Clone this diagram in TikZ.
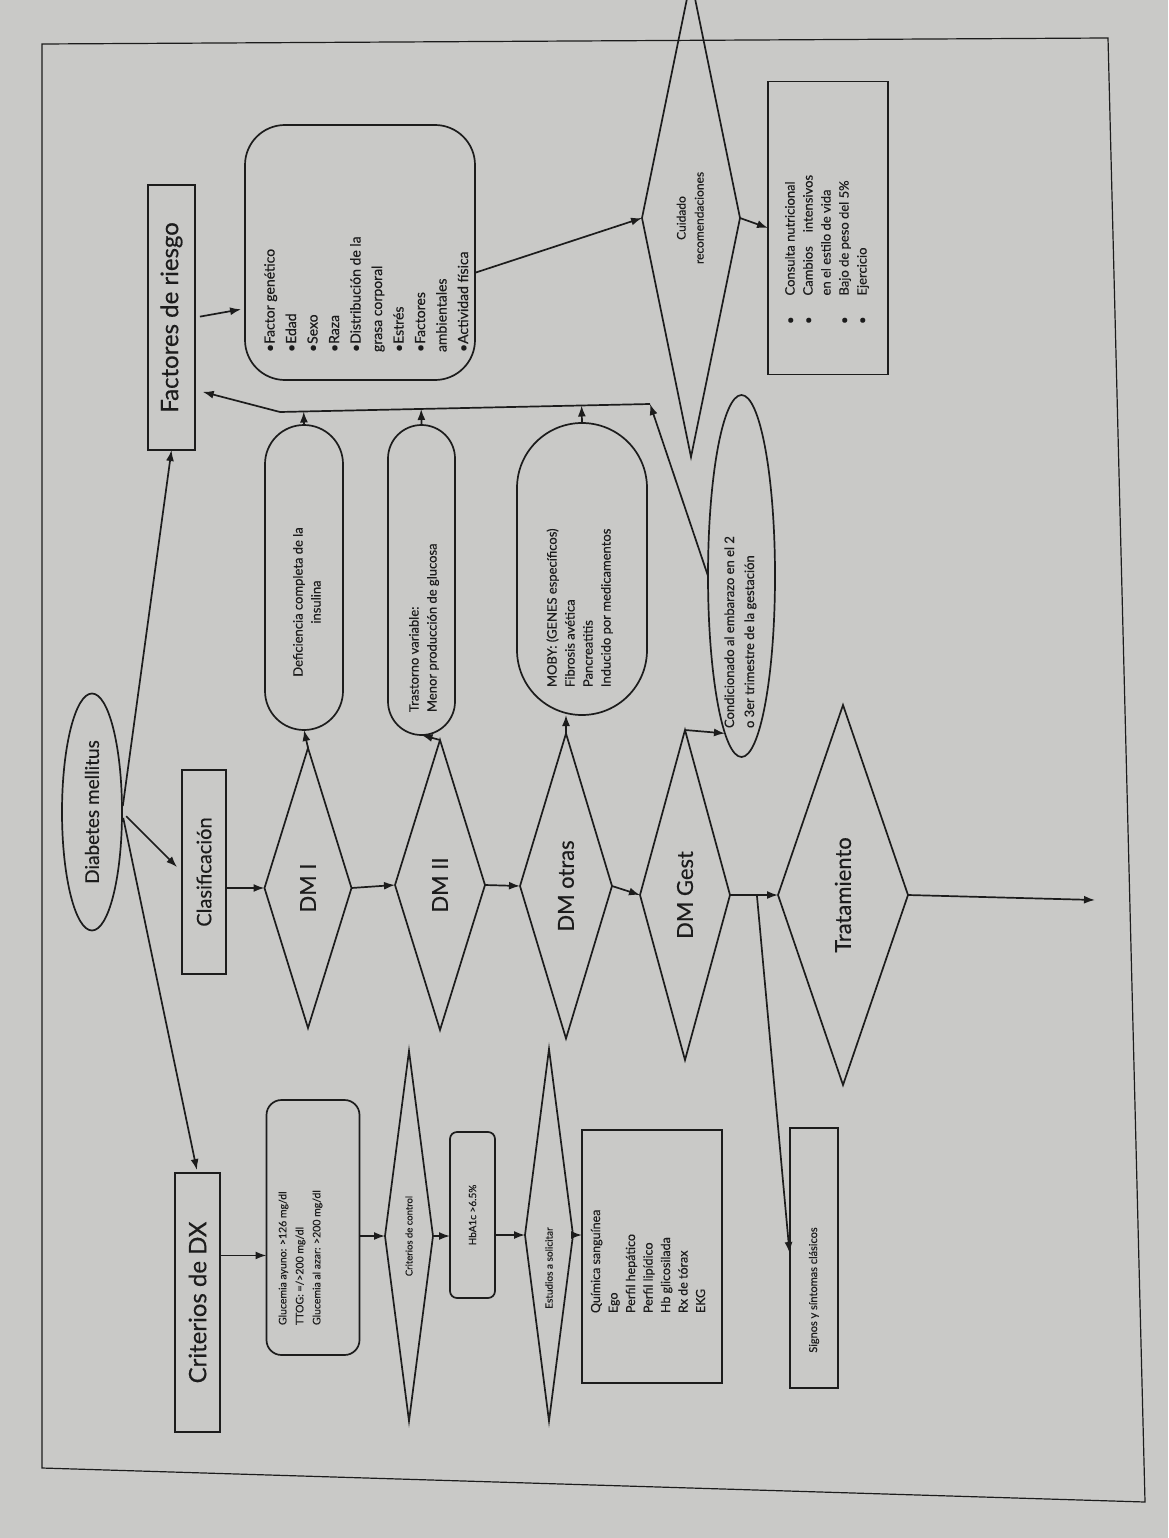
\documentclass[tikz,border=0pt]{standalone}
\usepackage{fontspec}
\setmainfont{Lato}[FakeBold=0.4]
\usepackage{graphicx}
\usetikzlibrary{arrows.meta,shapes.geometric,calc}

\definecolor{paper}{RGB}{201,201,199}
\definecolor{ink}{RGB}{28,28,28}

% vertical text, read from bottom to top
\newcommand{\vlist}[1]{\rotatebox{90}{\begin{tabular}{@{}l@{}}#1\end{tabular}}}
\newcommand{\vcent}[1]{\rotatebox{90}{\begin{tabular}{@{}c@{}}#1\end{tabular}}}

\begin{document}
\begin{tikzpicture}[x=1pt,y=-1pt,
    every node/.style={inner sep=0pt,outer sep=0pt,text=ink},
    drw/.style={draw=ink,line width=1.7pt},
    arr/.style={drw,-{Latex[length=11pt,width=8pt]}},
    box/.style={drw,rectangle},
    rbox/.style={drw,rectangle,rounded corners=#1},
    dia/.style={drw,diamond,aspect=0.25},
    ell/.style={drw,ellipse},
    big/.style={font=\fontsize{24}{28}\selectfont},
    dmfont/.style={font=\fontsize{22}{26}\selectfont},
    small/.style={font=\fontsize{13}{18}\selectfont},
    tiny/.style={font=\fontsize{10.5}{17}\selectfont}]
    % page
    \useasboundingbox (0,0) rectangle (1168,1538);
    \fill[paper] (0,0) rectangle (1168,1538);
    \clip (0,0) rectangle (1168,1538);
    \draw[ink,line width=1.2pt] (42,44) -- (1108,38) -- (1145,1502) -- (42,1468) -- cycle;
    % start
    \node[ell,minimum width=60pt,minimum height=237pt,font=\fontsize{19}{23}\selectfont] (dm) at (92,812) {\rotatebox{90}{Diabetes mellitus}};
    % first column
    \node[box,minimum width=47pt,minimum height=265pt,big] (fac) at (171.5,317.5) {\rotatebox{90}{Factores de riesgo}};
    \node[box,minimum width=44pt,minimum height=204pt,font=\fontsize{20}{24}\selectfont] (clas) at (204,872) {\rotatebox{90}{Clasificación}};
    \node[box,minimum width=45pt,minimum height=259pt,big] (crit) at (197.5,1302.5) {\rotatebox{90}{Criterios de DX}};
    % risk factors and care
    \node[rbox=40pt,minimum width=230pt,minimum height=255pt] (flist) at (360,252.5) {};
    \node[font=\fontsize{14}{21.5}\selectfont,anchor=south] (flisttxt) at (367,352) {\vlist{%
        •Factor genético\\ •Edad\\ •Sexo\\ •Raza\\ •Distribución de la\\ grasa corporal\\
        •Estrés\\ •Factores\\ ambientales\\ •Actividad física}};
    \node[dia,minimum width=98pt,minimum height=478pt,font=\fontsize{12}{18}\selectfont] (care) at (691,218) {\vcent{Cuidado\\ recomendaciones}};
    \node[box,minimum width=120pt,minimum height=293pt] (recs) at (828,228) {};
    \node[small,anchor=south] (recstxt) at (827,324) {\rotatebox{90}{\begin{tabular}{@{}l@{\hspace{21pt}}l@{}}
        •& Consulta nutricional\\ •& Cambios\hspace{14pt}intensivos\\ & en el estilo de vida\\
        •& Bajo de peso del 5\%\\ •& Ejercicio\end{tabular}}};
    % types
    \node[dia,minimum width=87pt,minimum height=280pt,dmfont] (dm1) at (308,888) {\rotatebox{90}{DM I}};
    \node[dia,minimum width=90pt,minimum height=290pt,dmfont] (dm2) at (440,885) {\rotatebox{90}{DM II}};
    \node[dia,minimum width=92pt,minimum height=305pt,dmfont] (dmo) at (566,886) {\rotatebox{90}{DM otras}};
    \node[dia,minimum width=90pt,minimum height=330pt,dmfont] (dmg) at (685,895) {\rotatebox{90}{DM Gest}};
    \node[dia,minimum width=130pt,minimum height=380pt,dmfont] (trat) at (843,895) {\rotatebox{90}{Tratamiento}};
    \coordinate (tratend) at (1095,900);
    \coordinate (split) at ($(dmg.east)!0.56!(trat.west)$);
    \node[box,minimum width=48pt,minimum height=260pt] (sig) at (814,1258) {};
    \node[font=\fontsize{11}{14}\selectfont] (sigtxt) at (814,1290) {\rotatebox{90}{Signos y síntomas clásicos}};
    % descriptions
    \node[rbox=39pt,minimum width=78pt,minimum height=305pt] (s1) at (304,577.5) {};
    \node[small] (s1txt) at (308,602) {\vcent{Deficiencia completa de la\\ insulina}};
    \node[rbox=33.5pt,minimum width=67pt,minimum height=310pt] (s2) at (421.5,580) {};
    \node[small,anchor=south] (s2txt) at (424,712) {\vlist{Trastorno variable:\\ Menor producción de glucosa}};
    \node[rbox=65pt,minimum width=130pt,minimum height=292pt] (s3) at (582,569) {};
    \node[small,anchor=south] (s3txt) at (580,687) {\vlist{MOBY: (GENES específicos)\\ Fibrosis avética\\ Pancreatitis\\ Inducido por medicamentos}};
    \node[ell,minimum width=67pt,minimum height=362pt] (cond) at (741.5,576) {};
    \node[font=\fontsize{13}{20}\selectfont,anchor=south] (condtxt) at (740,728) {\vlist{Condicionado al embarazo en el 2\\ o 3er trimestre de la gestación}};
    \coordinate (busR) at (650,404);
    \coordinate (busL) at (280,412);
    % diagnosis
    \node[rbox=15pt,minimum width=93pt,minimum height=255pt] (gluc) at (313,1227.5) {};
    \node[tiny,anchor=south] (gluctxt) at (300,1325) {\vlist{Glucemia ayuno: >126 mg/dl\\ TTOG: =/>200 mg/dl\\ Glucemia al azar: >200 mg/dl}};
    \node[dia,minimum width=48pt,minimum height=370pt,font=\fontsize{9.5}{12}\selectfont] (ctrl) at (409,1236) {\rotatebox{90}{Criterios de control}};
    \node[rbox=7pt,minimum width=45pt,minimum height=166pt,font=\fontsize{10}{12}\selectfont] (hba) at (472.5,1215) {\rotatebox{90}{HbA1c >6.5\%}};
    \node[dia,minimum width=48pt,minimum height=372pt] (est) at (549,1235) {};
    \node[font=\fontsize{10}{12}\selectfont] (esttxt) at (549,1268) {\rotatebox{90}{Estudios a solicitar}};
    \node[box,minimum width=140pt,minimum height=253pt] (quim) at (652,1256.5) {};
    \node[font=\fontsize{12.5}{17.5}\selectfont,anchor=south] (quimtxt) at (649,1313) {\vlist{Química sanguínea\\ Ego\\ Perfil hepático\\ Perfil lipídico\\ Hb glicosilada\\ Rx de tórax\\ EKG}};
    % arrows from the start
    \draw[arr,shorten <=6pt] (dm.east) -- (fac.south);
    \draw[arr,shorten <=6pt,shorten >=7pt] (dm.east) -- (clas.west);
    \draw[arr,shorten <=6pt,shorten >=3pt] (dm.east) -- (crit.north);
    % arrows, risk factors
    \draw[arr,shorten <=5pt,shorten >=4pt] (fac.east) -- (flist.206);
    \draw[arr] (flist.-10) -- (care.west);
    \draw[arr] (care.east) -- (recs.west);
    % arrows, types
    \draw[arr] (clas.east |- dm1.west) -- (dm1.west);
    \draw[arr] (dm1.east) -- (dm2.west);
    \draw[arr] (dm2.east) -- (dmo.west);
    \draw[arr] (dmo.east) -- (dmg.west);
    \draw[arr] (dmg.east) -- (trat.west);
    \draw[arr] (trat.east) -- (tratend);
    \draw[arr,shorten >=5pt] (split) -- (sig.west);
    \draw[arr] (dm1.north) -- (s1.south);
    \draw[arr] (dm2.north) -- (s2.south);
    \draw[arr] (dmo.north) -- (dmo.north |- s3.south);
    \draw[arr] (dmg.north) -- (cond.264);
    \draw[arr] (s1.north) -- ($(busL)!(s1.north)!(busR)$);
    \draw[arr] (s2.north) -- ($(busL)!(s2.north)!(busR)$);
    \draw[arr] (s3.north) -- ($(busL)!(s3.north)!(busR)$);
    \draw[arr] (cond.west) -- (busR);
    \draw[arr,shorten >=8pt] (busR) -- (busL) -- (fac.-72);
    % arrows, diagnosis
    \draw[arr] (crit.east |- gluc.211) -- (gluc.211);
    \draw[arr] (gluc.east |- ctrl.west) -- (ctrl.west);
    \draw[arr] (ctrl.east) -- (hba.west |- ctrl.east);
    \draw[arr] (hba.east |- est.west) -- (est.west);
    \draw[arr] (est.east) -- (quim.west |- est.east);
\end{tikzpicture}
\end{document}
